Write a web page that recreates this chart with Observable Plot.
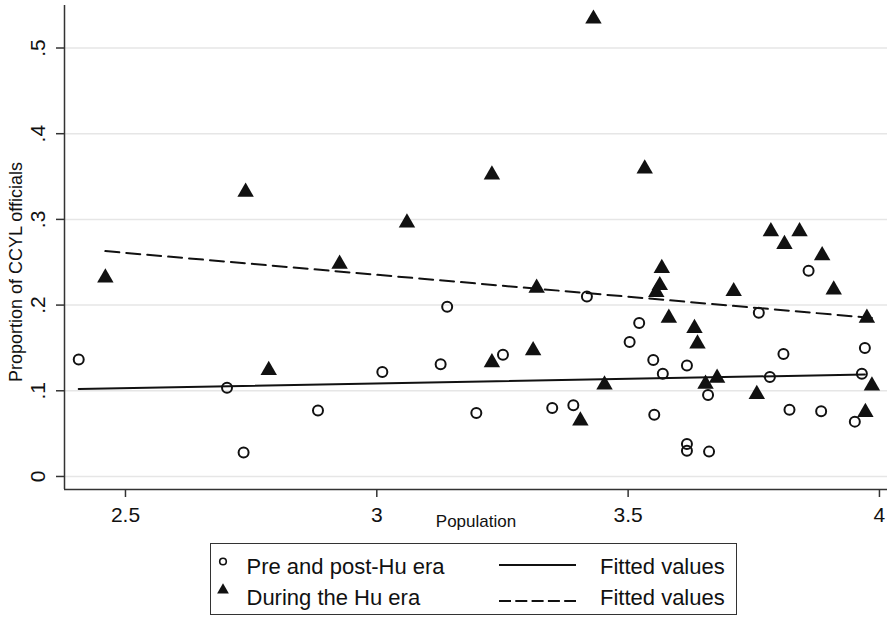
<!DOCTYPE html>
<html>
<head>
<meta charset="utf-8">
<script src="https://cdn.jsdelivr.net/npm/d3@7"></script>
<script src="https://cdn.jsdelivr.net/npm/@observablehq/plot@0.6"></script>
<style>
  html, body { margin: 0; padding: 0; background: #fff; }
  #wrap { position: relative; width: 887px; height: 617px; background: #fff; font-family: "Liberation Sans", Arial, sans-serif; }
  #legend { position: absolute; left: 210px; top: 543px; width: 527px; height: 72px; box-sizing: border-box; border: 1.5px solid #333; background: #fff; }
</style>
</head>
<body>
<div id="wrap"><div id="chart"></div><div id="legend"></div></div>
<script>
// ---- tick labels ----
const xTicks = [2.5, 3, 3.5, 4];
const xTickLabels = ["2.5", "3", "3.5", "4"];
const yTicks = [0, 0.1, 0.2, 0.3, 0.4, 0.5];
const yTickLabels = ["0", ".1", ".2", ".3", ".4", ".5"];

// ---- Pre and post-Hu era (hollow circles) ----
const prePopulation = [2.407, 2.702, 2.735, 2.883, 3.011, 3.127, 3.140, 3.198, 3.251, 3.349, 3.391, 3.418,
  3.503, 3.522, 3.550, 3.552, 3.569, 3.617, 3.617, 3.617, 3.659, 3.661, 3.760, 3.782, 3.809, 3.821,
  3.859, 3.884, 3.951, 3.965, 3.971];
const preProportion = [0.1365, 0.1035, 0.028, 0.077, 0.122, 0.131, 0.198, 0.074, 0.142, 0.080, 0.083, 0.210,
  0.157, 0.179, 0.136, 0.072, 0.120, 0.1295, 0.038, 0.030, 0.095, 0.029, 0.191, 0.116, 0.143, 0.078,
  0.240, 0.076, 0.064, 0.120, 0.150];

// ---- During the Hu era (filled triangles) ----
const huPopulation = [2.460, 2.739, 2.785, 2.926, 3.060, 3.229, 3.229, 3.311, 3.318, 3.405, 3.431, 3.453,
  3.533, 3.556, 3.563, 3.567, 3.581, 3.632, 3.638, 3.654, 3.677, 3.710, 3.756, 3.784, 3.811, 3.841,
  3.886, 3.909, 3.972, 3.975, 3.985];
const huProportion = [0.232, 0.332, 0.124, 0.248, 0.296, 0.352, 0.133, 0.147, 0.220, 0.065, 0.534, 0.107,
  0.359, 0.215, 0.223, 0.243, 0.185, 0.173, 0.155, 0.108, 0.115, 0.216, 0.096, 0.286, 0.271, 0.286,
  0.258, 0.218, 0.075, 0.185, 0.106];

// ---- Fitted values (line end points) ----
const fitPrePopulation = [2.407, 3.971];
const fitPreValue = [0.102, 0.119];
const fitHuPopulation = [2.460, 3.985];
const fitHuValue = [0.263, 0.185];

// ---- legend labels ----
const legendLabels = ["Pre and post-Hu era", "During the Hu era", "Fitted values", "Fitted values"];

const xTitle = "Population";
const yTitle = "Proportion of CCYL officials";

const pre = prePopulation.map((x, i) => ({x, y: preProportion[i]}));
const hu = huPopulation.map((x, i) => ({x, y: huProportion[i]}));
const fitPre = fitPrePopulation.map((x, i) => ({x, y: fitPreValue[i]}));
const fitHu = fitHuPopulation.map((x, i) => ({x, y: fitHuValue[i]}));

const xDomain = [2.3787, 4.016];
const yDomain = [-0.0152, 0.5496];
const ink = "#111";
const axisInk = "#333";
const font = "Liberation Sans, Arial, sans-serif";

const chart = Plot.plot({
  width: 887,
  height: 540,
  marginLeft: 64,
  marginRight: 0,
  marginTop: 5,
  marginBottom: 51,
  style: {fontFamily: font, background: "#fff", color: "#111"},
  x: {domain: xDomain},
  y: {domain: yDomain},
  marks: [
    Plot.ruleY(yTicks, {stroke: "#e6e6e6", strokeWidth: 1.5}),
    Plot.line(fitPre, {x: "x", y: "y", stroke: ink, strokeWidth: 2}),
    Plot.line(fitHu, {x: "x", y: "y", stroke: ink, strokeWidth: 2, strokeDasharray: "14,7"}),
    Plot.dot(pre, {x: "x", y: "y", r: 5, stroke: ink, strokeWidth: 2, fill: "none"}),
    Plot.dot(hu, {x: "x", y: "y", symbol: "triangle", r: 6.1, fill: ink, strokeWidth: 0}),
    Plot.ruleX([xDomain[0]], {stroke: axisInk, strokeWidth: 1.5}),
    Plot.ruleY([yDomain[0]], {stroke: axisInk, strokeWidth: 1.5}),
    Plot.axisX({ticks: xTicks, tickFormat: d => xTickLabels[xTicks.indexOf(d)], tickSize: 8, tickPadding: 10,
      fontSize: 21, label: null, stroke: axisInk, strokeWidth: 1.5, fill: ink}),
    Plot.axisY({ticks: yTicks, tickFormat: d => yTickLabels[yTicks.indexOf(d)], tickSize: 8, tickPadding: 18,
      tickRotate: -90, textAnchor: "middle", lineAnchor: "middle",
      fontSize: 21, label: null, stroke: axisInk, strokeWidth: 1.5, fill: ink}),
    Plot.text([xTitle], {frameAnchor: "bottom", dy: 32, text: d => d, fontSize: 17, lineAnchor: "middle", fill: ink}),
    Plot.text([yTitle], {frameAnchor: "left", y: () => 0.2386, dx: -48, rotate: -90, text: d => d,
      fontSize: 18, textAnchor: "middle", lineAnchor: "middle", fill: ink})
  ]
});
document.getElementById("chart").appendChild(chart);

// ---- legend ----
const tri = d3.symbol(d3.symbolTriangle, 60)();
document.getElementById("legend").innerHTML = `
<svg width="524" height="69" style="font-family:${font}; display:block">
  <circle cx="12" cy="17.5" r="3.3" fill="none" stroke="${ink}" stroke-width="1.6"/>
  <path d="${tri}" transform="translate(12,46)" fill="${ink}"/>
  <text x="35.5" y="29.5" font-size="22" fill="${ink}">${legendLabels[0]}</text>
  <text x="35.5" y="61" font-size="22" fill="${ink}">${legendLabels[1]}</text>
  <line x1="288" x2="365" y1="21" y2="21" stroke="${ink}" stroke-width="2"/>
  <line x1="288" x2="365" y1="57" y2="57" stroke="${ink}" stroke-width="2" stroke-dasharray="12,4.3"/>
  <text x="389" y="29.5" font-size="22" fill="${ink}">${legendLabels[2]}</text>
  <text x="389" y="61" font-size="22" fill="${ink}">${legendLabels[3]}</text>
</svg>`;
</script>
</body>
</html>
